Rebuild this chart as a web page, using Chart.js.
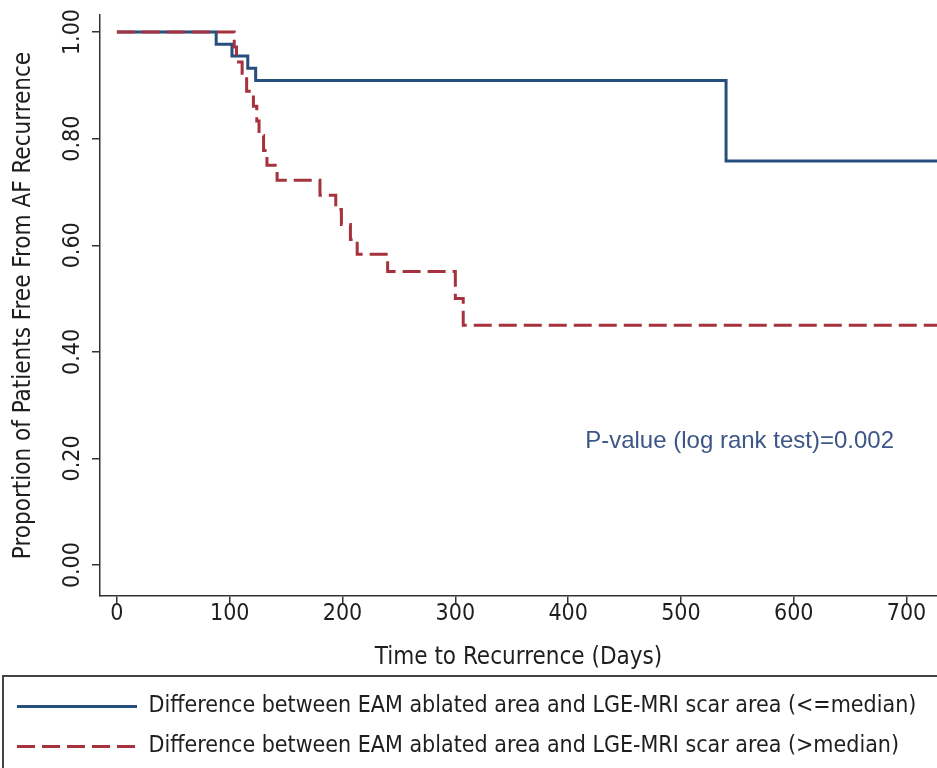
<!DOCTYPE html>
<html>
<head>
<meta charset="utf-8">
<script src="https://cdn.jsdelivr.net/npm/chart.js@4.4.1/dist/chart.umd.min.js"></script>
<style>
  html, body { margin: 0; padding: 0; background: #fff; }
</style>
</head>
<body>
<canvas id="km" width="937" height="768"></canvas>
<script>
// Kaplan-Meier steps: day of step, survival after it
const lowDays  = [0, 88, 102, 116, 123, 540, 727];
const lowSurv  = [1.0, 0.977, 0.955, 0.932, 0.909, 0.758, 0.758];

const highDays = [0, 104, 106, 111, 115, 121, 124, 126, 130, 133, 142, 180, 194, 199, 207, 213, 240, 300, 307, 727];
const highSurv = [1.0, 0.972, 0.944, 0.917, 0.889, 0.861, 0.833, 0.806, 0.778, 0.750, 0.722,
                  0.694, 0.667, 0.639, 0.611, 0.583, 0.551, 0.500, 0.450, 0.450];

const xTicks = [0, 100, 200, 300, 400, 500, 600, 700];
const yTicks = [0, 0.2, 0.4, 0.6, 0.8, 1.0];

const seriesLabels = [
  'Difference between EAM ablated area and LGE-MRI scar area (<=median)',
  'Difference between EAM ablated area and LGE-MRI scar area (>median)'
];
const pValueText = 'P-value (log rank test)=0.002';
const pValueAt = [552, 0.233];   // day, proportion

const NARROW = "'Liberation Sans Narrow', 'Arial Narrow', 'DejaVu Sans Condensed', 'Liberation Sans', sans-serif";
Chart.defaults.font.family = NARROW;
Chart.defaults.color = '#1e1e1e';

const toPts = (xs, ys) => xs.map((d, i) => ({x: d, y: ys[i]}));

const pValuePlugin = {
  id: 'pvalue',
  afterDraw(chart) {
    const {ctx, scales: {x, y}} = chart;
    ctx.save();
    ctx.font = "24px 'Liberation Sans', Arial, sans-serif";
    ctx.fillStyle = '#3d5688';
    ctx.textAlign = 'center';
    ctx.textBaseline = 'middle';
    ctx.fillText(pValueText, x.getPixelForValue(pValueAt[0]), y.getPixelForValue(pValueAt[1]));
    ctx.restore();
  }
};

const legendFrame = {
  id: 'legendFrame',
  afterDraw(chart) {
    const lg = chart.legend;
    const ctx = chart.ctx;
    ctx.save();
    ctx.strokeStyle = '#444';
    ctx.lineWidth = 2;
    ctx.strokeRect(3, lg.top - 2, chart.width + 10, chart.height);
    ctx.restore();
  }
};

new Chart(document.getElementById('km'), {
  type: 'line',
  data: {
    datasets: [
      {
        label: seriesLabels[0],
        data: toPts(lowDays, lowSurv),
        borderColor: '#264f7d',
        backgroundColor: '#264f7d',
        borderWidth: 3,
        stepped: true,
        pointRadius: 0,
        fill: false,
        order: 1
      },
      {
        label: seriesLabels[1],
        data: toPts(highDays, highSurv),
        borderColor: '#a5323c',
        backgroundColor: '#a5323c',
        borderWidth: 3,
        borderDash: [18, 7],
        stepped: true,
        pointRadius: 0,
        fill: false,
        order: 0
      }
    ]
  },
  options: {
    responsive: false,
    animation: false,
    devicePixelRatio: 1,
    layout: { padding: { left: 0, right: 0, top: 15, bottom: 0 } },
    plugins: {
      tooltip: { enabled: false },
      legend: {
        position: 'bottom',
        align: 'start',
        labels: {
          usePointStyle: true,
          pointStyle: 'line',
          pointStyleWidth: 120,
          font: { size: 23 },
          padding: 17,
          color: '#1e1e1e',
          sort: (a, b) => a.datasetIndex - b.datasetIndex,
          generateLabels: chart => {
            const items = Chart.defaults.plugins.legend.labels.generateLabels(chart);
            items.forEach(it => { it.lineDash = chart.data.datasets[it.datasetIndex].borderDash || []; });
            return items;
          }
        }
      }
    },
    scales: {
      x: {
        type: 'linear',
        min: -15,
        max: 727,
        afterBuildTicks: s => { s.ticks = xTicks.map(v => ({value: v})); },
        afterFit: s => { s.height = 82; },
        grid: { drawOnChartArea: false, drawTicks: true, tickLength: 8, color: '#333', lineWidth: 1.5 },
        border: { display: true, color: '#333', width: 1.5 },
        ticks: { font: { size: 23 }, padding: -4, maxRotation: 0, autoSkip: false },
        title: { display: true, text: 'Time to Recurrence (Days)', font: { size: 24 }, padding: { top: 0, bottom: 6 } }
      },
      y: {
        type: 'linear',
        min: -0.058,
        max: 1.032,
        afterBuildTicks: s => { s.ticks = yTicks.map(v => ({value: v})); },
        afterFit: s => { s.width = 100; },
        grid: { drawOnChartArea: false, drawTicks: true, tickLength: 8, color: '#333', lineWidth: 1.5 },
        border: { display: true, color: '#333', width: 1.5 },
        ticks: {
          font: { size: 23 },
          minRotation: 90,
          maxRotation: 90,
          crossAlign: 'center',
          padding: -4,
          autoSkip: false,
          callback: v => v.toFixed(2)
        },
        title: { display: true, text: 'Proportion of Patients Free From AF Recurrence', font: { size: 24 }, padding: { top: 9, bottom: 0 } }
      }
    }
  },
  plugins: [pValuePlugin, legendFrame]
});
</script>
</body>
</html>
